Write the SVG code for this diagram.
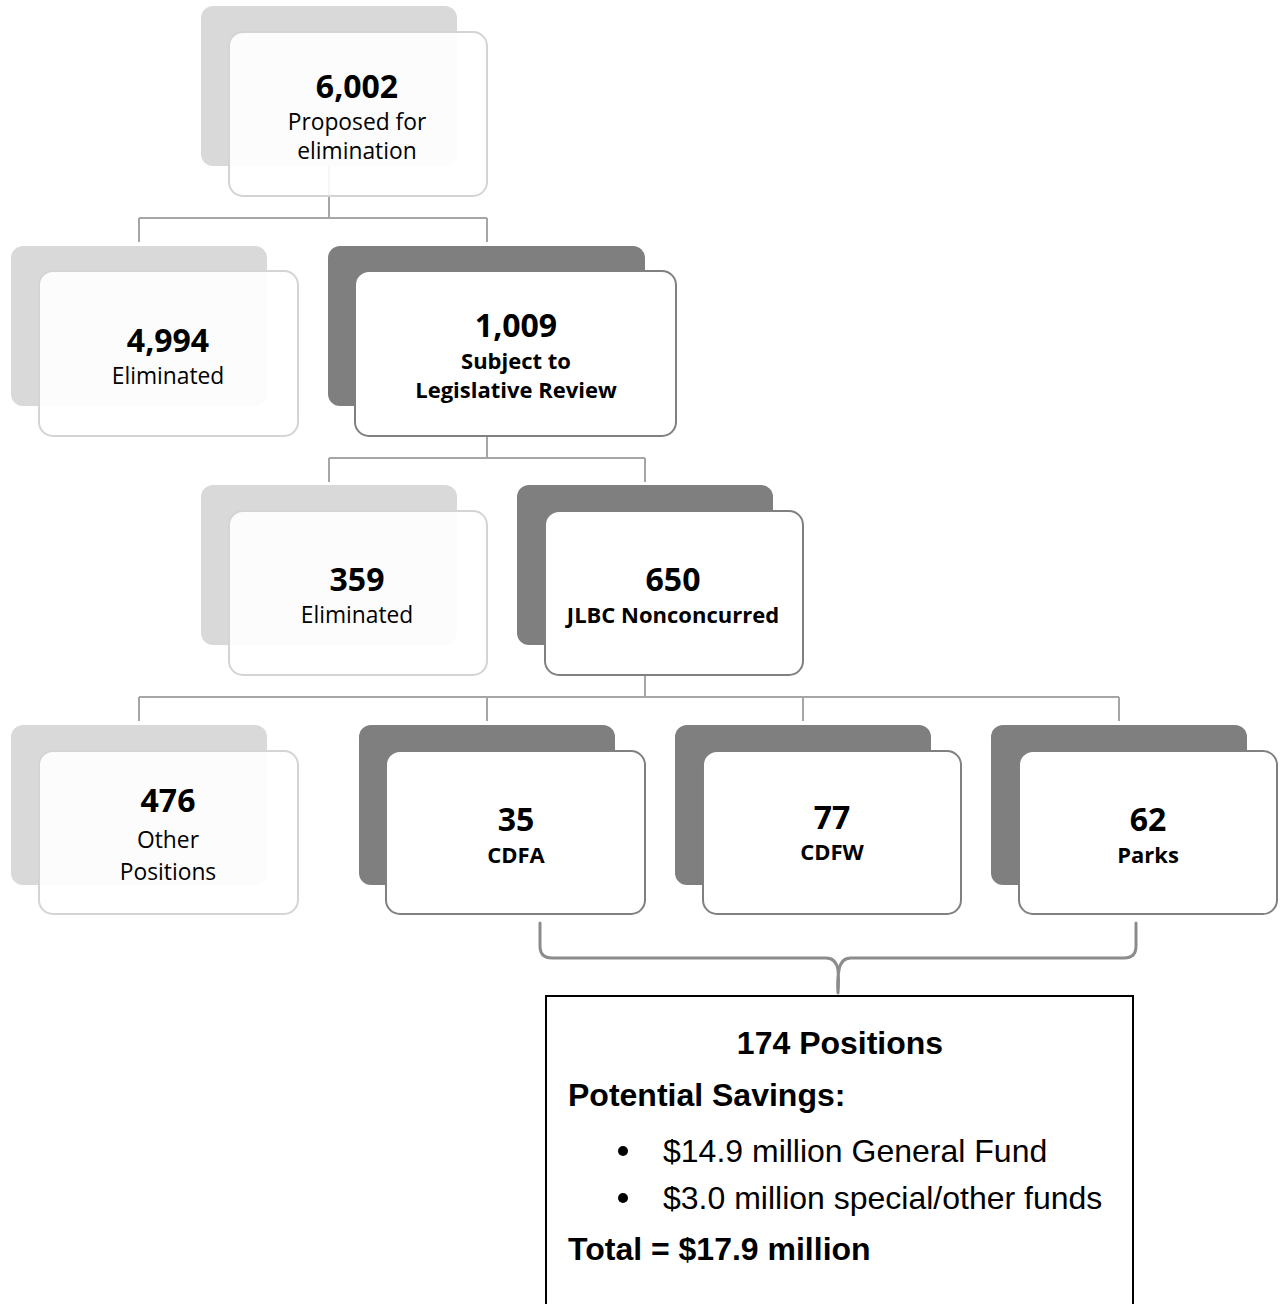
<svg xmlns="http://www.w3.org/2000/svg" width="1281" height="1304" viewBox="0 0 1281 1304">
<style>
.bl{fill:#d9d9d9}
.bd{fill:#7f7f7f}
.fl{fill:#ffffff;fill-opacity:0.9;stroke:#d4d4d4;stroke-width:2}
.fd{fill:#ffffff;stroke:#808080;stroke-width:2}
.conn{fill:none;stroke:#a6a6a6;stroke-width:2}
.brace{fill:none;stroke:#8c8c8c;stroke-width:3;stroke-linecap:round;stroke-linejoin:round}
.num{font-family:"Open Sans",sans-serif;font-weight:bold;font-size:32px;fill:#000;text-anchor:middle}
.lab{font-family:"Open Sans",sans-serif;font-size:22.8px;fill:#000;text-anchor:middle}
.labb{font-family:"Open Sans",sans-serif;font-weight:bold;font-size:22px;fill:#000;text-anchor:middle}
.sb{font-family:"Liberation Sans",Arial,sans-serif;font-weight:bold;font-size:32px;fill:#000}
.sr{font-family:"Liberation Sans",Arial,sans-serif;font-size:32px;fill:#000}
</style>
<rect width="1281" height="1304" fill="#ffffff"/>
<g id="connectors">
<path class="conn" d="M329 166V218M139 218H487M139 218V242M487 218V242"/>
<path class="conn" d="M487 436V458M329 458H645M329 458V482M645 458V482"/>
<path class="conn" d="M645 675V697M139 697H1119M139 697V721M487 697V721M803 697V721M1119 697V721"/>
<path class="brace" d="M540 923V946Q540 958 552 958H826Q836 958 838 970Q839 980 838 993Q837 980 839 970Q841 958 851 958H1124Q1136 958 1136 946V923"/>
</g>
<g id="n6002">
<rect class="bl" x="201" y="6" width="256" height="160" rx="12"/>
<rect class="fl" x="229" y="32" width="258" height="164" rx="14"/>
<text class="num" x="357" y="98">6,002</text>
<text class="lab" x="357" y="130">Proposed for</text>
<text class="lab" x="357" y="159">elimination</text>
</g>
<g id="n4994">
<rect class="bl" x="11" y="246" width="256" height="160" rx="12"/>
<rect class="fl" x="39" y="271" width="259" height="165" rx="14"/>
<text class="num" x="168" y="352">4,994</text>
<text class="lab" x="168" y="384">Eliminated</text>
</g>
<g id="n1009">
<rect class="bd" x="328" y="246" width="317" height="160" rx="12"/>
<rect class="fd" x="355" y="271" width="321" height="165" rx="14"/>
<text class="num" x="516" y="337">1,009</text>
<text class="labb" x="516" y="369">Subject to</text>
<text class="labb" x="516" y="398">Legislative Review</text>
</g>
<g id="n359">
<rect class="bl" x="201" y="485" width="256" height="160" rx="12"/>
<rect class="fl" x="229" y="511" width="258" height="164" rx="14"/>
<text class="num" x="357" y="591">359</text>
<text class="lab" x="357" y="623">Eliminated</text>
</g>
<g id="n650">
<rect class="bd" x="517" y="485" width="256" height="160" rx="12"/>
<rect class="fd" x="545" y="511" width="258" height="164" rx="14"/>
<text class="num" x="673" y="591">650</text>
<text class="labb" x="673" y="623">JLBC Nonconcurred</text>
</g>
<g id="n476">
<rect class="bl" x="11" y="725" width="256" height="160" rx="12"/>
<rect class="fl" x="39" y="751" width="259" height="163" rx="14"/>
<text class="num" x="168" y="812">476</text>
<text class="lab" x="168" y="848">Other</text>
<text class="lab" x="168" y="880">Positions</text>
</g>
<g id="nCDFA">
<rect class="bd" x="359" y="725" width="256" height="160" rx="12"/>
<rect class="fd" x="386" y="751" width="259" height="163" rx="14"/>
<text class="num" x="516" y="831">35</text>
<text class="labb" x="516" y="863">CDFA</text>
</g>
<g id="nCDFW">
<rect class="bd" x="675" y="725" width="256" height="160" rx="12"/>
<rect class="fd" x="703" y="751" width="258" height="163" rx="14"/>
<text class="num" x="832" y="829">77</text>
<text class="labb" x="832" y="860">CDFW</text>
</g>
<g id="nParks">
<rect class="bd" x="991" y="725" width="256" height="160" rx="12"/>
<rect class="fd" x="1019" y="751" width="258" height="163" rx="14"/>
<text class="num" x="1148" y="831">62</text>
<text class="labb" x="1148" y="863">Parks</text>
</g>
<g id="summary">
<rect x="546" y="996" width="587" height="320" fill="#ffffff" stroke="#000000" stroke-width="2"/>
<text class="sb" x="840" y="1054" text-anchor="middle">174 Positions</text>
<text class="sb" x="568" y="1106">Potential Savings:</text>
<circle cx="623" cy="1151" r="5" fill="#000"/>
<text class="sr" x="663" y="1162">$14.9 million General Fund</text>
<circle cx="623" cy="1198" r="5" fill="#000"/>
<text class="sr" x="663" y="1209">$3.0 million special/other funds</text>
<text class="sb" x="568" y="1260">Total = $17.9 million</text>
</g>
</svg>
